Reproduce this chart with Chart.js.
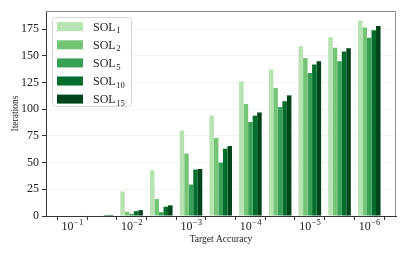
<!DOCTYPE html>
<html>
<head>
<meta charset="utf-8">
<script src="https://cdn.jsdelivr.net/npm/chart.js@4"></script>
<style>
  html, body { margin: 0; padding: 0; background: #fff; }
  #wrap { width: 407px; height: 255px; position: relative; }
</style>
</head>
<body>
<div id="wrap"><canvas id="chart"></canvas></div>
<script>
// Target accuracy groups: labelled every other position
const tickLabels = ['10^-1', '', '10^-2', '', '10^-3', '', '10^-4', '', '10^-5', '', '10^-6'];
const seriesNames = ['SOL_1', 'SOL_2', 'SOL_5', 'SOL_10', 'SOL_15'];
const seriesColors = ['#b7e2b1', '#74c476', '#37a055', '#006d2c', '#00441b'];

// iterations per group
const sol1 = [0, 0, 23, 43, 80, 94, 126, 137, 159, 167.5, 183];
const sol2 = [0, 0, 4, 16, 58.5, 73, 105, 120, 148, 157.5, 176.5];
const sol5 = [0, 0.4, 2, 3.5, 29.5, 50, 88, 102, 134, 145, 167];
const sol10 = [0, 1, 4.5, 8.7, 43.5, 63, 94, 107.5, 142, 154, 174];
const sol15 = [0.5, 1, 5.5, 10, 44, 65.5, 97, 113, 145, 157, 178];
const allSeries = [sol1, sol2, sol5, sol10, sol15];

const serif = "'Liberation Serif', 'DejaVu Serif', serif";

let datasets = allSeries.map(function(vals, k) {
    return {
        label: seriesNames[k],
        data: vals.map((v, i) => ({x: i, y: v})),
        backgroundColor: seriesColors[k],
        borderWidth: 0,
        categoryPercentage: 0.76,
        barPercentage: 1.0
    };
});

// draws "base" with a smaller raised or lowered part
function drawScripted(ctx, x, y, base, script, size, up, align) {
    ctx.font = size + 'px ' + serif;
    let wBase = ctx.measureText(base).width;
    ctx.font = (size * 0.72) + 'px ' + serif;
    let wScript = ctx.measureText(script).width;
    let start = align === 'center' ? x - (wBase + wScript) / 2 : x;
    ctx.textAlign = 'left';
    ctx.textBaseline = 'alphabetic';
    ctx.font = size + 'px ' + serif;
    ctx.fillText(base, start, y);
    ctx.font = (size * 0.72) + 'px ' + serif;
    ctx.fillText(script, start + wBase + 0.5, y + (up ? -size * 0.38 : size * 0.22));
}

const framePlugin = {
    id: 'frame',
    afterDatasetsDraw(chart) {
        let ctx = chart.ctx;
        let a = chart.chartArea;
        ctx.save();
        ctx.strokeStyle = '#8a8a8a';
        ctx.lineWidth = 1;
        ctx.beginPath();
        ctx.moveTo(a.left, a.top + 0.5);
        ctx.lineTo(a.right - 0.5, a.top + 0.5);
        ctx.lineTo(a.right - 0.5, a.bottom);
        ctx.stroke();
        ctx.restore();
    },
    afterDraw(chart) {
        let ctx = chart.ctx;
        let xs = chart.scales.x;
        ctx.save();
        ctx.fillStyle = '#222';
        // x tick labels with exponents
        tickLabels.forEach(function(lab, i) {
            if (!lab) return;
            let parts = lab.split('^');
            let px = xs.getPixelForValue(i);
            drawScripted(ctx, px, 230, parts[0], parts[1].replace('-', '\u2212'), 12, true, 'center');
        });
        // legend inside the plot
        let bx = 52, by = 17, bw = 79, bh = 89;
        ctx.beginPath();
        ctx.roundRect(bx + 0.5, by + 0.5, bw, bh, 3);
        ctx.fillStyle = 'rgba(255,255,255,0.85)';
        ctx.fill();
        ctx.strokeStyle = '#d6d6d6';
        ctx.stroke();
        seriesNames.forEach(function(name, k) {
            let cy = 26.7 + k * 18.1;
            ctx.fillStyle = seriesColors[k];
            ctx.fillRect(57, cy - 4.5, 26, 9);
            ctx.fillStyle = '#222';
            let parts = name.split('_');
            drawScripted(ctx, 93, cy + 4, parts[0], parts[1], 12, false, 'left');
        });
        ctx.restore();
    }
};

let ctx = document.getElementById('chart').getContext('2d');
let chart = new Chart(ctx, {
    type: 'bar',
    data: { datasets: datasets },
    options: {
        responsive: true,
        maintainAspectRatio: false,
        animation: false,
        layout: { padding: { left: 0, right: 11, top: 11, bottom: 0 } },
        plugins: {
            legend: { display: false },
            tooltip: { enabled: false }
        },
        scales: {
            x: {
                type: 'linear',
                min: -0.88,
                max: 10.9,
                offset: false,
                afterBuildTicks: function(scale) {
                    scale.ticks = tickLabels.map((t, i) => ({value: i}));
                },
                afterFit: function(scale) { scale.height = 39; },
                ticks: { callback: () => '', padding: 0, font: { size: 11, family: serif } },
                grid: { drawOnChartArea: false, drawTicks: true, tickLength: 4, tickColor: '#333' },
                border: { display: true, color: '#333' },
                title: {
                    display: true,
                    text: 'Target Accuracy',
                    color: '#222',
                    font: { size: 9.5, family: serif },
                    padding: { top: 0, bottom: 10 }
                }
            },
            y: {
                min: 0,
                max: 192,
                afterFit: function(scale) { scale.width = 46; },
                ticks: {
                    stepSize: 25,
                    includeBounds: false,
                    color: '#222',
                    padding: 3,
                    font: { size: 12, family: serif }
                },
                grid: { color: 'rgba(0,0,0,0.045)', tickColor: '#333', tickLength: 4 },
                border: { display: true, color: '#333' },
                title: {
                    display: true,
                    text: 'Iterations',
                    color: '#222',
                    font: { size: 9.5, family: serif },
                    padding: { top: 9.5, bottom: 0 }
                }
            }
        }
    },
    plugins: [framePlugin]
});
</script>
</body>
</html>
